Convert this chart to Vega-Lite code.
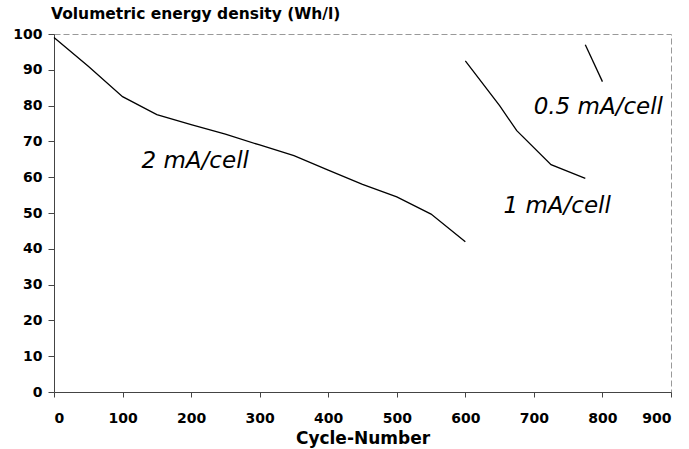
{
  "$schema": "https://vega.github.io/schema/vega-lite/v6.json",
  "width": 617,
  "height": 358,
  "autosize": "none",
  "padding": {"left": 54, "top": 34, "right": 18, "bottom": 57},
  "background": "white",
  "title": {"text": "Volumetric energy density (Wh/l)", "anchor": "start", "frame": "group", "dx": -3, "offset": 5,
            "font": "DejaVu Sans", "fontSize": 15.5, "fontWeight": "bold", "color": "black"},
  "config": {
    "font": "DejaVu Sans",
    "view": {"stroke": "#999", "strokeWidth": 1, "strokeDash": [6, 3]},
    "axis": {"domain": true, "domainColor": "#444", "tickColor": "#444", "grid": false,
             "labelFont": "DejaVu Sans", "labelFontSize": 14, "labelFontWeight": "bold", "labelColor": "black",
             "titleFont": "DejaVu Sans", "titleFontSize": 17, "titleFontWeight": "bold", "titleColor": "black"}
  },
  "datasets": {
    "lines": [
      {"cycle": 0, "energy": 99, "series": "2 mA/cell"},
      {"cycle": 50, "energy": 91, "series": "2 mA/cell"},
      {"cycle": 100, "energy": 82.5, "series": "2 mA/cell"},
      {"cycle": 150, "energy": 77.5, "series": "2 mA/cell"},
      {"cycle": 200, "energy": 74.7, "series": "2 mA/cell"},
      {"cycle": 250, "energy": 72, "series": "2 mA/cell"},
      {"cycle": 300, "energy": 69, "series": "2 mA/cell"},
      {"cycle": 350, "energy": 66, "series": "2 mA/cell"},
      {"cycle": 400, "energy": 62, "series": "2 mA/cell"},
      {"cycle": 450, "energy": 58, "series": "2 mA/cell"},
      {"cycle": 500, "energy": 54.5, "series": "2 mA/cell"},
      {"cycle": 550, "energy": 49.7, "series": "2 mA/cell"},
      {"cycle": 600, "energy": 42, "series": "2 mA/cell"},
      {"cycle": 600, "energy": 92.5, "series": "1 mA/cell"},
      {"cycle": 650, "energy": 80, "series": "1 mA/cell"},
      {"cycle": 675, "energy": 73, "series": "1 mA/cell"},
      {"cycle": 725, "energy": 63.5, "series": "1 mA/cell"},
      {"cycle": 775, "energy": 59.7, "series": "1 mA/cell"},
      {"cycle": 775, "energy": 97, "series": "0.5 mA/cell"},
      {"cycle": 800, "energy": 86.7, "series": "0.5 mA/cell"}
    ],
    "labels": [
      {"cycle": 206, "energy": 64.5, "label": "2 mA/cell"},
      {"cycle": 734, "energy": 52, "label": "1 mA/cell"},
      {"cycle": 794, "energy": 79.6, "label": "0.5 mA/cell"}
    ]
  },
  "layer": [
    {
      "data": {"name": "lines"},
      "mark": {"type": "line", "color": "black", "strokeWidth": 1.3},
      "encoding": {
        "x": {"field": "cycle", "type": "quantitative",
              "scale": {"domain": [0, 900], "nice": false, "zero": false},
              "axis": {"title": "Cycle-Number", "values": [0,100,200,300,400,500,600,700,800,900],
                       "labelOverlap": false, "tickSize": 5, "labelPadding": 14, "titleY": 38, "titleBaseline": "top"}},
        "y": {"field": "energy", "type": "quantitative",
              "scale": {"domain": [0, 100], "nice": false},
              "axis": {"title": null, "values": [0,10,20,30,40,50,60,70,80,90,100], "tickCount": 11,
                       "labelOverlap": false, "tickSize": 6, "labelPadding": 6}},
        "detail": {"field": "series"},
        "order": {"field": "cycle"}
      }
    },
    {
      "data": {"name": "labels"},
      "mark": {"type": "text", "font": "DejaVu Sans", "fontSize": 23, "fontStyle": "italic", "color": "black", "align": "center", "baseline": "middle"},
      "encoding": {
        "x": {"field": "cycle", "type": "quantitative"},
        "y": {"field": "energy", "type": "quantitative"},
        "text": {"field": "label"}
      }
    }
  ]
}
